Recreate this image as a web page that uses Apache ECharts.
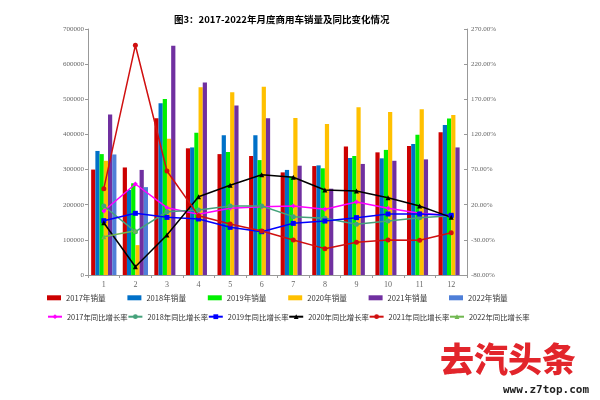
<!DOCTYPE html>
<html>
<head>
<meta charset="utf-8">
<script src="https://cdn.jsdelivr.net/npm/echarts@6/dist/echarts.min.js"></script>
<style>html,body{margin:0;padding:0;background:#fff;}#c{width:600px;height:400px;}</style>
</head>
<body>
<div id="c"></div>
<script>
const months = ['1','2','3','4','5','6','7','8','9','10','11','12'];
const barNames = ['2017年销量','2018年销量','2019年销量','2020年销量','2021年销量','2022年销量'];
const lineNames = ['2017年同比增长率','2018年同比增长率','2019年同比增长率','2020年同比增长率','2021年同比增长率','2022年同比增长率'];

const sales2017 = [300000, 306000, 446000, 360500, 344000, 338600, 292000, 310000, 366000, 349000, 367000, 406000];
const sales2018 = [353000, 242000, 489000, 363000, 397500, 397500, 299000, 312000, 333000, 332000, 373000, 427000];
const sales2019 = [344000, 261000, 501000, 405000, 350000, 327000, 280000, 303600, 338600, 356000, 399000, 445000];
const sales2020 = [325000, 85000, 388000, 534000, 520000, 536000, 447000, 430000, 477000, 464000, 471500, 455000];
const sales2021 = [457000, 299000, 652000, 548000, 482000, 446000, 311000, 245600, 316000, 325000, 329000, 363000];
const sales2022 = [343000, 250000, null, null, null, null, null, null, null, null, null, null];

const growth2017 = [11, 49.5, 15.8, 6.3, 14.9, 17.2, 18.2, 13.5, 23.9, 14.9, 7.8, 4.5];
const growth2018 = [18.2, -18.4, 10, 12.5, 18.2, 18.2, 3, 0.6, -7.9, -3.2, 1.6, 4.4];
const growth2019 = [-2.7, 7.8, 2, -0.3, -12.2, -18.4, -6.5, -3.2, 1.6, 6.8, 6.8, 4.9];
const growth2020 = [-5.6, -68.2, -23, 31.4, 47.6, 62.7, 59, 41, 39.5, 30, 18.2, 2];
const growth2021 = [42.8, 246.8, 68, 4.4, -7.4, -17.4, -30.2, -42.5, -33.5, -30.2, -30.6, -19.8];
const growth2022 = [-25.5, -17, null, null, null, null, null, null, null, null, null, null];

const leftTicks = {min: 0, max: 700000, interval: 100000};
const rightTicks = {min: -80, max: 270, interval: 50};

const barColors = ['#CC0000', '#0070C8', '#00F000', '#FFC000', '#7030A0', '#4F7FD8'];
const lineColors = ['#FF00FF', '#45A27B', '#0000FF', '#000000', '#D01010', '#70B850'];
const lineSymbols = ['diamond', 'circle', 'rect', 'triangle', 'circle', 'triangle'];

const salesData = [sales2017, sales2018, sales2019, sales2020, sales2021, sales2022];
const growthData = [growth2017, growth2018, growth2019, growth2020, growth2021, growth2022];

const axisFont = {fontFamily: 'Liberation Serif', fontSize: 7, color: '#666'};

const series = [];
barNames.forEach((n, i) => {
  series.push({
    name: n, type: 'bar', data: salesData[i], yAxisIndex: 0,
    barGap: '0%', barCategoryGap: '20%',
    itemStyle: {color: barColors[i]}
  });
});
lineNames.forEach((n, i) => {
  series.push({
    name: n, type: 'line', data: growthData[i], yAxisIndex: 1,
    symbol: lineSymbols[i], symbolSize: 5, showSymbol: true,
    lineStyle: {color: lineColors[i], width: 1.5},
    itemStyle: {color: lineColors[i]},
    z: 5
  });
});

const legends = [];
barNames.forEach((n, i) => {
  legends.push({data: [n], left: 47 + i * 80.4, top: 294, itemWidth: 14, itemHeight: 5, itemGap: 0,
    icon: 'rect', selectedMode: false, padding: 0,
    textStyle: {fontSize: 7.6, color: '#333', fontFamily: 'Noto Sans CJK SC'}});
});
lineNames.forEach((n, i) => {
  legends.push({data: [n], left: 47 + i * 80.4, top: 313, itemWidth: 14, itemHeight: 6, itemGap: 0,
    selectedMode: false, padding: 0,
    textStyle: {fontSize: 7.4, color: '#333', fontFamily: 'Noto Sans CJK SC'}});
});

const chart = echarts.init(document.getElementById('c'), null, {renderer: 'canvas'});
chart.setOption({
  animation: false,
  backgroundColor: '#fff',
  title: {
    text: '图3：2017-2022年月度商用车销量及同比变化情况',
    left: 169, top: 10,
    textStyle: {fontSize: 9.5, fontWeight: 'bold', color: '#000', fontFamily: 'Noto Sans CJK SC'}
  },
  legend: legends,
  grid: {left: 88, right: 133, top: 29, bottom: 125},
  xAxis: {
    type: 'category', data: months, boundaryGap: true,
    axisLine: {lineStyle: {color: '#999'}},
    axisTick: {show: true, length: 3, lineStyle: {color: '#999'}},
    axisLabel: Object.assign({margin: 6}, axisFont, {fontSize: 8})
  },
  yAxis: [
    {
      type: 'value', min: leftTicks.min, max: leftTicks.max, interval: leftTicks.interval,
      axisLine: {show: true, lineStyle: {color: '#999'}},
      axisTick: {show: true, length: 3, lineStyle: {color: '#999'}},
      splitLine: {show: false},
      axisLabel: Object.assign({margin: 4, formatter: v => String(v)}, axisFont)
    },
    {
      type: 'value', min: rightTicks.min, max: rightTicks.max, interval: rightTicks.interval,
      position: 'right',
      axisLine: {show: true, lineStyle: {color: '#999'}},
      axisTick: {show: true, inside: true, length: 3, lineStyle: {color: '#999'}},
      splitLine: {show: false},
      axisLabel: Object.assign({margin: 4, formatter: v => v.toFixed(2) + '%'}, axisFont)
    }
  ],
  series: series,
  graphic: [
    {type: 'text', left: 440, top: 342, style: {text: '去汽头条', fontSize: 34, fontWeight: 900,
      fontFamily: 'Noto Sans CJK SC', fill: '#E2252B'}},
    {type: 'text', left: 503, top: 385, style: {text: 'www.z7top.com', fontSize: 11, fontWeight: 'bold',
      fontFamily: 'DejaVu Sans Mono', fill: '#222'}}
  ]
});
</script>
</body>
</html>
